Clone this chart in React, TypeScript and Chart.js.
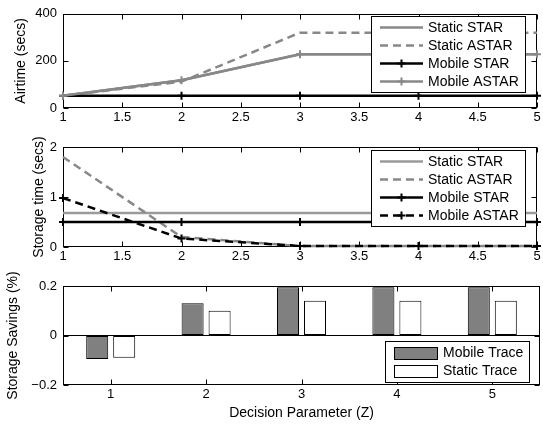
import { useEffect, useRef } from 'react';
import { Chart, registerables } from 'chart.js';

Chart.register(...registerables);

// ---------- data ----------
const zValues = [1, 2, 3, 4, 5];

const airStaticStar = [52, 118, 228, 228, 228];
const airStaticAstar = [52, 112, 320, 320, 320];
const airMobileStar = [52, 52, 52, 52, 52];
const airMobileAstar = [52, 118, 228, 228, 228];

const storStaticStar = [0.68, 0.68, 0.68, 0.68, 0.68];
const storStaticAstar = [1.8, 0.2, 0.02, 0.02, 0.02];
const storMobileStar = [0.5, 0.5, 0.5, 0.5, 0.5];
const storMobileAstar = [0.98, 0.17, 0.02, 0.02, 0.02];

const savingsMobile = [-0.095, 0.13, 0.195, 0.195, 0.195];
const savingsStatic = [-0.09, 0.1, 0.14, 0.14, 0.14];

const airTicks = [0, 200, 400];
const storTicks = [0, 1, 2];
const savTicks = [-0.2, 0, 0.2];

// ---------- styles ----------
const FONT = "'Liberation Sans', Arial, Helvetica, sans-serif";
const GRAY = '#888888';
const LIGHT_GRAY = '#9a9a9a';
const DASH = [8, 5];
const TICK_FONT = { family: FONT, size: 13 };
const LABEL_FONT = { family: FONT, size: 14 };

const pts = (arr: number[]) => zValues.map((z, i) => ({ x: z, y: arr[i] }));

const fmtNum = (v: number) => {
  const r = Math.round(v * 10) / 10;
  return r < 0 ? '\u2212' + Math.abs(r) : String(r);
};

// frame + inward ticks
const framePlugin = {
  id: 'frame',
  beforeDatasetsDraw(chart: any) {
    const { ctx, chartArea: a, scales } = chart;
    const L = Math.round(a.left) + 0.5;
    const R = Math.round(a.right) - 0.5;
    const T = Math.round(a.top) + 0.5;
    const B = Math.round(a.bottom) - 0.5;
    ctx.save();
    ctx.strokeStyle = '#000';
    ctx.lineWidth = 1;
    ctx.strokeRect(L, T, R - L, B - T);
    const tl = 5;
    const seg = (x1: number, y1: number, x2: number, y2: number) => {
      ctx.beginPath();
      ctx.moveTo(x1, y1);
      ctx.lineTo(x2, y2);
      ctx.stroke();
    };
    const xs = scales.x;
    xs.ticks.forEach((_t: any, i: number) => {
      const px = Math.round(xs.getPixelForTick(i)) + 0.5;
      seg(px, B, px, B - tl);
      seg(px, T, px, T + tl);
    });
    const ys = scales.y;
    ys.ticks.forEach((_t: any, i: number) => {
      const py = Math.round(ys.getPixelForTick(i)) + 0.5;
      seg(L, py, L + tl, py);
      seg(R, py, R - tl, py);
    });
    ctx.restore();
  },
};

// boxed legend inside the chart area
const boxLegendPlugin = {
  id: 'boxLegend',
  afterDatasetsDraw(chart: any, _args: any, opts: any) {
    if (!opts || !opts.show) return;
    const { ctx, chartArea: a } = chart;
    const ds = chart.data.datasets;
    ctx.save();
    ctx.font = `14px ${FONT}`;
    const textW = Math.max(...ds.map((d: any) => ctx.measureText(d.label).width));
    const w = Math.round(opts.textX + textW + opts.padRight);
    const h = ds.length * opts.rowH + opts.padY * 2;
    const right = Math.round(a.right - opts.right);
    const left = right - w;
    const top = opts.anchor === 'bottom' ? Math.round(a.bottom - opts.bottom - h) : Math.round(a.top + opts.top);
    ctx.fillStyle = '#fff';
    ctx.fillRect(left, top, w, h);
    ctx.strokeStyle = '#000';
    ctx.lineWidth = 1;
    ctx.strokeRect(left + 0.5, top + 0.5, w - 1, h - 1);
    ds.forEach((d: any, i: number) => {
      const cy = top + opts.padY + opts.rowH * (i + 0.5);
      if (opts.kind === 'bar') {
        ctx.fillStyle = d.backgroundColor;
        ctx.fillRect(left + 9, Math.round(cy - 6.5), 44, 13);
        ctx.strokeStyle = '#000';
        ctx.lineWidth = 1;
        ctx.strokeRect(left + 9.5, Math.round(cy - 6.5) + 0.5, 43, 12);
      } else {
        ctx.strokeStyle = d.borderColor;
        ctx.lineWidth = d.borderWidth;
        ctx.setLineDash(d.borderDash || []);
        ctx.beginPath();
        ctx.moveTo(left + 9, cy);
        ctx.lineTo(left + 52, cy);
        ctx.stroke();
        ctx.setLineDash([]);
        if (d.pointRadius > 0) {
          const mx = left + 30.5;
          const r = d.pointRadius;
          ctx.lineWidth = d.pointBorderWidth;
          ctx.strokeStyle = d.pointBorderColor || d.borderColor;
          ctx.beginPath();
          ctx.moveTo(mx - r, cy);
          ctx.lineTo(mx + r, cy);
          ctx.moveTo(mx, cy - r);
          ctx.lineTo(mx, cy + r);
          ctx.stroke();
        }
      }
      ctx.fillStyle = '#000';
      ctx.textBaseline = 'middle';
      ctx.textAlign = 'left';
      ctx.fillText(d.label, left + opts.textX, cy + 0.5);
    });
    ctx.restore();
  },
};

const lineDs = (label: string, data: number[], color: string, dashed: boolean, marker: boolean, order: number) => ({
  label,
  data: pts(data),
  borderColor: color,
  backgroundColor: color,
  borderWidth: 2.5,
  borderDash: dashed ? DASH : [],
  pointStyle: 'cross',
  pointRadius: marker ? 4 : 0,
  pointBorderWidth: 2,
  pointBorderColor: color,
  pointHoverRadius: 0,
  tension: 0,
  clip: false,
  order,
});

const noGrid = { display: false, drawTicks: false };

function lineConfig(opts: {
  datasets: any[];
  yMin: number;
  yMax: number;
  yTicks: number[];
  yTitle: string;
  padLeft: number;
  yWidth: number;
  padTop: number;
  xHeight: number;
}) {
  return {
    type: 'line',
    data: { datasets: opts.datasets },
    plugins: [framePlugin, boxLegendPlugin],
    options: {
      responsive: false,
      animation: false,
      devicePixelRatio: 1,
      events: [],
      layout: { padding: { left: opts.padLeft, right: 3, top: opts.padTop, bottom: 0 } },
      plugins: {
        legend: { display: false },
        tooltip: { enabled: false },
        boxLegend: { show: true, kind: 'line', right: 11, top: 2.5, rowH: 18, padY: 2.5, textX: 57, padRight: 7 },
      },
      scales: {
        x: {
          type: 'linear',
          min: 1,
          max: 5,
          ticks: {
            stepSize: 0.5,
            padding: 2,
            color: '#000',
            font: TICK_FONT,
            maxRotation: 0,
            autoSkip: false,
            callback: (v: any) => fmtNum(Number(v)),
          },
          grid: noGrid,
          border: { display: false },
          afterFit: (s: any) => {
            s.height = opts.xHeight;
          },
        },
        y: {
          type: 'linear',
          min: opts.yMin,
          max: opts.yMax,
          afterBuildTicks: (s: any) => {
            s.ticks = opts.yTicks.map((v) => ({ value: v }));
          },
          ticks: { padding: 6, color: '#000', font: TICK_FONT, callback: (v: any) => fmtNum(Number(v)) },
          title: { display: true, text: opts.yTitle, color: '#000', font: LABEL_FONT, padding: 0 },
          grid: noGrid,
          border: { display: false },
          afterFit: (s: any) => {
            s.width = opts.yWidth;
          },
        },
      },
    },
  };
}

function airConfig() {
  return lineConfig({
    datasets: [
      lineDs('Static STAR', airStaticStar, GRAY, false, false, 4),
      lineDs('Static ASTAR', airStaticAstar, GRAY, true, false, 3),
      lineDs('Mobile STAR', airMobileStar, '#000', false, true, 2),
      lineDs('Mobile ASTAR', airMobileAstar, GRAY, false, true, 1),
    ],
    yMin: 0,
    yMax: 400,
    yTicks: airTicks,
    yTitle: 'Airtime (secs)',
    padLeft: 13,
    yWidth: 50,
    padTop: 8,
    xHeight: 22,
  });
}

function storConfig() {
  return lineConfig({
    datasets: [
      lineDs('Static STAR', storStaticStar, LIGHT_GRAY, false, false, 4),
      lineDs('Static ASTAR', storStaticAstar, GRAY, true, false, 3),
      lineDs('Mobile STAR', storMobileStar, '#000', false, true, 2),
      lineDs('Mobile ASTAR', storMobileAstar, '#000', true, true, 1),
    ],
    yMin: 0,
    yMax: 2,
    yTicks: storTicks,
    yTitle: 'Storage time (secs)',
    padLeft: 31,
    yWidth: 32,
    padTop: 17,
    xHeight: 23,
  });
}

function savingsConfig() {
  const barCommon = {
    borderColor: '#000',
    borderWidth: 1,
    borderSkipped: false,
    categoryPercentage: 0.566,
    barPercentage: 0.815,
  };
  return {
    type: 'bar',
    data: {
      labels: zValues.map(String),
      datasets: [
        { label: 'Mobile Trace', data: savingsMobile, backgroundColor: '#808080', ...barCommon },
        { label: 'Static Trace', data: savingsStatic, backgroundColor: '#ffffff', ...barCommon },
      ],
    },
    plugins: [framePlugin, boxLegendPlugin],
    options: {
      responsive: false,
      animation: false,
      devicePixelRatio: 1,
      events: [],
      layout: { padding: { left: 5, right: 3, top: 16, bottom: 0 } },
      plugins: {
        legend: { display: false },
        tooltip: { enabled: false },
        boxLegend: { show: true, kind: 'bar', anchor: 'bottom', right: 10, bottom: 2, rowH: 18, padY: 3, textX: 58, padRight: 7 },
      },
      scales: {
        x: {
          type: 'category',
          ticks: { padding: 2, color: '#000', font: TICK_FONT, maxRotation: 0 },
          title: { display: true, text: 'Decision Parameter (Z)', color: '#000', font: LABEL_FONT, padding: { top: 0, bottom: 6 } },
          grid: noGrid,
          border: { display: false },
          afterFit: (s: any) => {
            s.height = 43;
          },
        },
        y: {
          type: 'linear',
          min: -0.2,
          max: 0.2,
          afterBuildTicks: (s: any) => {
            s.ticks = savTicks.map((v) => ({ value: v }));
          },
          ticks: { padding: 6, color: '#000', font: TICK_FONT, callback: (v: any) => fmtNum(Number(v)) },
          title: { display: true, text: 'Storage Savings (%)', color: '#000', font: LABEL_FONT, padding: 0 },
          grid: {
            display: true,
            drawTicks: false,
            lineWidth: 1,
            color: (c: any) => (c.tick && Math.abs(c.tick.value) < 1e-9 ? '#000' : 'rgba(0,0,0,0)'),
          },
          border: { display: false },
          afterFit: (s: any) => {
            s.width = 58;
          },
        },
      },
    },
  };
}

function ChartCanvas({ top, height, build }: { top: number; height: number; build: () => any }) {
  const ref = useRef<HTMLCanvasElement | null>(null);
  useEffect(() => {
    if (!ref.current) return;
    const chart = new Chart(ref.current, build());
    return () => chart.destroy();
  }, []);
  return (
    <canvas
      ref={ref}
      width={543}
      height={height}
      style={{ position: 'absolute', left: 0, top, width: 543, height, display: 'block' }}
    />
  );
}

export default function App() {
  return (
    <div style={{ position: 'absolute', left: 0, top: 0, width: 543, height: 428, background: '#fff', overflow: 'hidden' }}>
      <ChartCanvas top={0} height={130} build={airConfig} />
      <ChartCanvas top={130} height={140} build={storConfig} />
      <ChartCanvas top={270} height={158} build={savingsConfig} />
    </div>
  );
}
